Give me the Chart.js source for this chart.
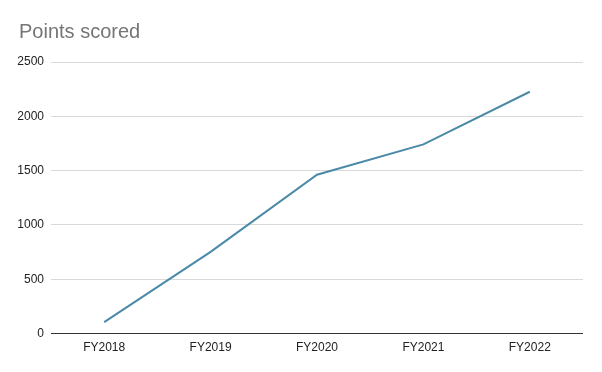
<!DOCTYPE html>
<html>
<head>
<meta charset="utf-8">
<script src="https://cdn.jsdelivr.net/npm/chart.js@4.4.1/dist/chart.umd.min.js"></script>
<style>
    html, body { margin: 0; padding: 0; background: #fff; }
    #wrap { width: 602px; height: 372px; }
</style>
</head>
<body>
<div id="wrap"><canvas id="pointsChart"></canvas></div>
<script>
const years = ['FY2018', 'FY2019', 'FY2020', 'FY2021', 'FY2022'];
const points = [105, 752, 1462, 1742, 2226];
const yTicks = [0, 500, 1000, 1500, 2000, 2500];
const chartTitle = 'Points scored';

const FONT = 'Liberation Sans, Arial, sans-serif';

// title drawn by hand so it can sit left of the y axis labels
const titlePlugin = {
    id: 'leftTitle',
    afterDraw(chart) {
        const c = chart.ctx;
        c.save();
        c.font = '20px ' + FONT;
        c.fillStyle = '#757575';
        c.textBaseline = 'alphabetic';
        c.textAlign = 'left';
        c.fillText(chartTitle, 19, 38);
        c.restore();
    }
};

const ctx = document.getElementById('pointsChart');

new Chart(ctx, {
    type: 'line',
    data: {
        labels: years,
        datasets: [{
            label: chartTitle,
            data: points,
            borderColor: '#4a8aa8',
            borderWidth: 2,
            pointRadius: 0,
            pointHoverRadius: 0,
            tension: 0,
            fill: false
        }]
    },
    options: {
        responsive: true,
        maintainAspectRatio: false,
        animation: false,
        layout: {
            padding: { left: 0, right: 19, top: 62, bottom: 10 }
        },
        plugins: {
            legend: { display: false },
            tooltip: { enabled: false },
            title: { display: false }
        },
        scales: {
            x: {
                offset: true,
                grid: { display: false, drawTicks: false },
                border: { display: false },
                ticks: {
                    color: '#222',
                    padding: 7,
                    maxRotation: 0,
                    font: { family: FONT, size: 12 }
                }
            },
            y: {
                min: 0,
                max: 2500,
                afterBuildTicks: scale => {
                    scale.ticks = yTicks.map(v => ({ value: v }));
                },
                afterFit: scale => {
                    scale.width = 51;
                },
                border: { display: false },
                grid: {
                    drawTicks: false,
                    color: c => c.tick && c.tick.value === 0 ? '#333333' : '#d9d9d9',
                    lineWidth: 1
                },
                ticks: {
                    color: '#222',
                    padding: 7,
                    font: { family: FONT, size: 12 },
                    callback: v => String(v)
                }
            }
        }
    },
    plugins: [titlePlugin]
});
</script>
</body>
</html>
